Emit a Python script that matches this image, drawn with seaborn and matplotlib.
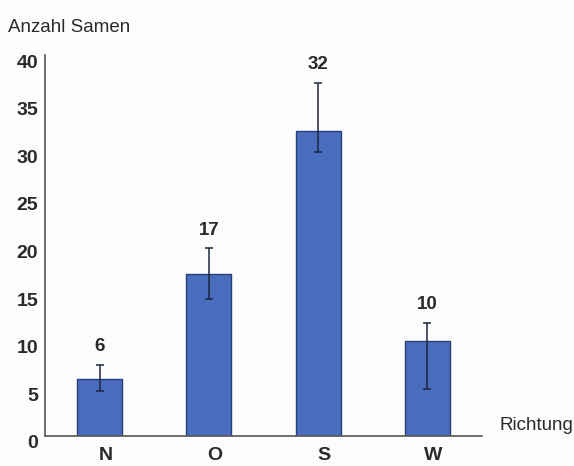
import matplotlib
matplotlib.use("Agg")
import matplotlib.pyplot as plt
import matplotlib.transforms as mtransforms
import numpy as np
import pandas as pd
import seaborn as sns

# Keimverteilung nach Himmelsrichtung
richtung = ["N", "O", "S", "W"]
samen = [6, 17, 32, 10]
fehler_unten = [4.7, 14.4, 29.8, 4.9]
fehler_oben = [7.45, 19.7, 37.1, 11.9]
y_ticks = [0, 5, 10, 15, 20, 25, 30, 35, 40]

df = pd.DataFrame({"Richtung": richtung, "Samen": samen})

sns.set_style("white")
plt.rcParams["font.family"] = ["Liberation Sans", "DejaVu Sans"]

bg = "#fcfcfa"
bar_col = "#4a6cbd"
edge_col = "#263f7c"
text_col = "#2a2a2a"
axis_col = "#555555"

fig = plt.figure(figsize=(5.74, 4.66), dpi=100, facecolor=bg)
ax = fig.add_axes([45 / 574, 30 / 466, 437 / 574, 381 / 466])
ax.set_facecolor(bg)

sns.barplot(data=df, x="Richtung", y="Samen", color=bar_col, width=0.41,
            edgecolor=edge_col, linewidth=1.0, errorbar=None, saturation=1,
            ax=ax)

x = np.arange(len(richtung))
mean = np.array(samen, dtype=float)
lo = mean - np.array(fehler_unten)
hi = np.array(fehler_oben) - mean
ax.errorbar(x, mean, yerr=[lo, hi], fmt="none", ecolor="#1c2540",
            elinewidth=1.1, capsize=3, capthick=1.1, zorder=5)

for xi, val, top in zip(x, samen, fehler_oben):
    ax.annotate(str(val), (xi, top), xytext=(0, 7), textcoords="offset points",
                ha="center", va="bottom", fontsize=13.5, fontweight="bold",
                color=text_col)

ax.set_xlim(-0.5, 3.5)
ax.set_ylim(0, 40)
ax.set_yticks(y_ticks)
ax.set_yticklabels([str(t) for t in y_ticks])
ax.set_xlabel("")
ax.set_ylabel("")

for side in ["top", "right"]:
    ax.spines[side].set_visible(False)
for side in ["left", "bottom"]:
    ax.spines[side].set_color(axis_col)
    ax.spines[side].set_linewidth(1.2)

ax.tick_params(axis="y", length=0, pad=5, labelsize=14, labelcolor=text_col)
ax.tick_params(axis="x", length=0, pad=8, labelsize=14, labelcolor=text_col)
for lab in ax.get_yticklabels() + ax.get_xticklabels():
    lab.set_fontweight("bold")

# small marks between the categories on the x axis
ax.set_xticks([0.5, 1.5, 2.5], minor=True)
ax.tick_params(axis="x", which="minor", length=3, width=0.8, color="#999999")

# shift tick labels slightly as in the typeset layout
dy = mtransforms.ScaledTranslation(0, -6 / 100, fig.dpi_scale_trans)
for lab in ax.get_yticklabels():
    lab.set_transform(lab.get_transform() + dy)
dx = mtransforms.ScaledTranslation(6 / 100, 0, fig.dpi_scale_trans)
for lab in ax.get_xticklabels():
    lab.set_transform(lab.get_transform() + dx)

fig.text(8 / 574, 1 - 28 / 466, "Anzahl Samen", ha="left", va="center",
         fontsize=13.5, color=text_col)
fig.text(500 / 574, 1 - 425 / 466, "Richtung", ha="left", va="center",
         fontsize=13.5, color=text_col)

fig.savefig("out.png", dpi=100, facecolor=bg)
